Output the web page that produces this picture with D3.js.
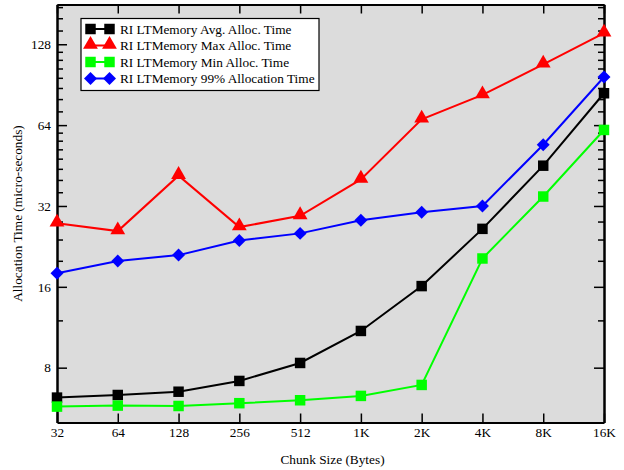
<!DOCTYPE html>
<html><head><meta charset="utf-8">
<script src="https://cdn.jsdelivr.net/npm/d3@7"></script>
<style>
html,body{margin:0;padding:0;background:#fff;}
svg text{font-family:"Liberation Serif","Times New Roman",serif;}
</style></head>
<body><svg id="c" width="624" height="470"></svg>
<script>
const categories = ["32","64","128","256","512","1K","2K","4K","8K","16K"];
const avgTime  = [6.19, 6.33, 6.51, 7.14, 8.33, 10.96, 16.1, 26.3, 45.2, 84.1];
const maxTime  = [27.6, 25.8, 41.5, 26.7, 29.4, 40.2, 67.3, 82.9, 107.8, 140.7];
const minTime  = [5.73, 5.78, 5.76, 5.90, 6.05, 6.28, 6.90, 20.4, 34.7, 61.4];
const p99Time  = [17.98, 19.97, 21.0, 23.8, 25.3, 28.3, 30.3, 32.0, 54.1, 96.7];
const seriesNames = ["RI LTMemory Avg. Alloc. Time","RI LTMemory Max Alloc. Time","RI LTMemory Min Alloc. Time","RI LTMemory 99% Allocation Time"];
const yMajorTicks = [8, 16, 32, 64, 128];
const yMinorTicks = [12, 20, 24, 28, 36, 40, 44, 48, 52, 56, 60, 72, 80, 88, 96, 104, 112, 120, 144, 160, 176];
const yDomain = [5, 180];

const series = [
  {name: seriesNames[0], values: avgTime, color: "#000000", shape: "square"},
  {name: seriesNames[1], values: maxTime, color: "#ff0000", shape: "triangle"},
  {name: seriesNames[2], values: minTime, color: "#00ff00", shape: "square"},
  {name: seriesNames[3], values: p99Time, color: "#0000ff", shape: "diamond"}
];

const L = 57, R = 604, T = 4.5, B = 422.5;
const svg = d3.select("#c");
const x = d3.scalePoint().domain(categories).range([L, R]);
const y = d3.scaleLog().base(2).domain(yDomain).range([B, T]);

svg.append("rect").attr("x", L).attr("y", T).attr("width", R - L).attr("height", B - T).attr("fill", "#dcdcdc");

// axes
const fmt = d => String(d);
const axB = svg.append("g").attr("transform", `translate(0,${B})`)
  .call(d3.axisBottom(x).tickSizeInner(-9).tickSizeOuter(0).tickPadding(18));
const axT = svg.append("g").attr("transform", `translate(0,${T})`)
  .call(d3.axisTop(x).tickSizeInner(-9).tickSizeOuter(0).tickFormat(""));
const axL = svg.append("g").attr("transform", `translate(${L},0)`)
  .call(d3.axisLeft(y).tickValues(yMajorTicks).tickFormat(fmt).tickSizeInner(-10).tickSizeOuter(0).tickPadding(16));
const axR = svg.append("g").attr("transform", `translate(${R},0)`)
  .call(d3.axisRight(y).tickValues(yMajorTicks).tickFormat("").tickSizeInner(-10).tickSizeOuter(0));
const axLm = svg.append("g").attr("transform", `translate(${L},0)`)
  .call(d3.axisLeft(y).tickValues(yMinorTicks).tickFormat("").tickSizeInner(-6).tickSizeOuter(0));
const axRm = svg.append("g").attr("transform", `translate(${R},0)`)
  .call(d3.axisRight(y).tickValues(yMinorTicks).tickFormat("").tickSizeInner(-6).tickSizeOuter(0));
[axB, axT, axL, axR, axLm, axRm].forEach(g => {
  g.select(".domain").attr("stroke", "#000").attr("stroke-width", 2);
  g.selectAll(".tick line").attr("stroke", "#000").attr("stroke-width", 1.5);
  g.selectAll(".tick text").attr("font-size", 13.3).attr("fill", "#000")
   .attr("font-family", '"Liberation Serif","Times New Roman",serif');
});
axB.selectAll(".tick text").attr("dy", "0.71em").attr("y", 5);
axL.selectAll(".tick text").attr("x", -6);

// axis titles
svg.append("text").attr("x", (L + R) / 2 + 2).attr("y", 464).attr("text-anchor", "middle")
  .attr("font-size", 13.3).text("Chunk Size (Bytes)");
svg.append("text").attr("transform", `translate(22,${(T + B) / 2}) rotate(-90)`).attr("text-anchor", "middle")
  .attr("font-size", 13.3).text("Allocation Time (micro-seconds)");

const squareDiamond = {
  draw(ctx, size) {
    const r = Math.sqrt(size / 2);
    ctx.moveTo(0, -r); ctx.lineTo(r, 0); ctx.lineTo(0, r); ctx.lineTo(-r, 0); ctx.closePath();
  }
};
function symbolFor(shape) {
  if (shape === "square") return d3.symbol().type(d3.symbolSquare).size(110);
  if (shape === "triangle") return d3.symbol().type(d3.symbolTriangle).size(95);
  return d3.symbol().type(squareDiamond).size(84);
}
function markerOffset(shape) { return shape === "triangle" ? -1 : 0; }

const line = d3.line().x((d, i) => x(categories[i])).y(d => y(d));
series.forEach(s => {
  const g = svg.append("g");
  g.append("path").attr("d", line(s.values)).attr("fill", "none").attr("stroke", s.color).attr("stroke-width", 2);
  g.selectAll("path.m").data(s.values).enter().append("path").attr("class", "m")
    .attr("d", symbolFor(s.shape))
    .attr("transform", (d, i) => `translate(${x(categories[i])},${y(d) + markerOffset(s.shape)})`)
    .attr("fill", s.color);
});

// legend
const lg = svg.append("g");
lg.append("rect").attr("x", 81).attr("y", 18.5).attr("width", 238).attr("height", 72)
  .attr("fill", "#fff").attr("stroke", "#000").attr("stroke-width", 1.2);
const rowY = [29, 45.5, 62, 78.5];
series.forEach((s, i) => {
  const yy = rowY[i];
  lg.append("line").attr("x1", 90.5).attr("x2", 109.5).attr("y1", yy).attr("y2", yy)
    .attr("stroke", s.color).attr("stroke-width", 2);
  [90.5, 109.5].forEach(cx => {
    lg.append("path").attr("d", symbolFor(s.shape)).attr("fill", s.color)
      .attr("transform", `translate(${cx},${yy + markerOffset(s.shape)})`);
  });
  lg.append("text").attr("x", 120).attr("y", yy + 4.5).attr("font-size", 13.3).text(s.name);
});
</script></body></html>
